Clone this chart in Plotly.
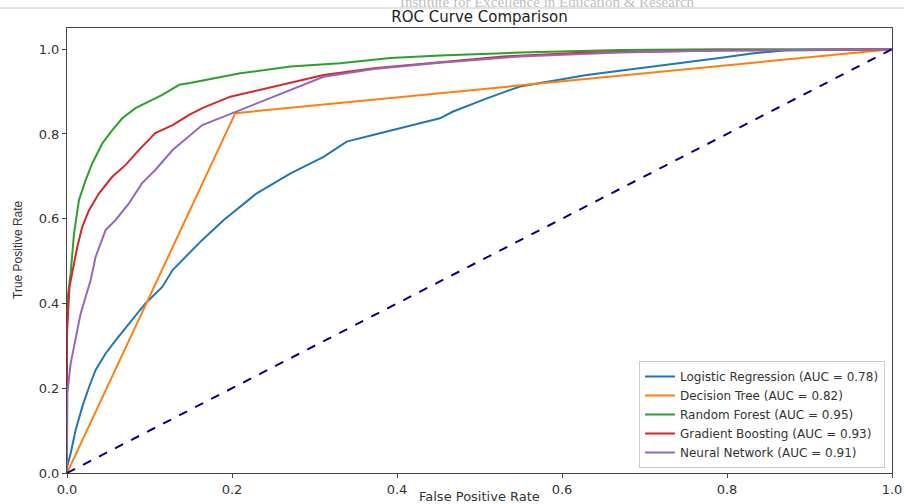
import plotly.graph_objects as go

# ---- data ----
lr_fpr = [0.0, 0.0, 0.0044, 0.0104, 0.0185, 0.0267, 0.0347, 0.0468, 0.0589, 0.075, 0.095, 0.1155,
          0.128, 0.164, 0.190, 0.230, 0.271, 0.311, 0.339, 0.372, 0.412, 0.452, 0.468, 0.509,
          0.549, 0.590, 0.630, 0.670, 0.711, 0.751, 0.791, 0.83, 0.869, 1.0]
lr_tpr = [0.0, 0.014, 0.046, 0.101, 0.156, 0.203, 0.243, 0.282, 0.313, 0.353, 0.400, 0.439,
          0.479, 0.550, 0.597, 0.660, 0.707, 0.746, 0.782, 0.798, 0.817, 0.837, 0.853, 0.884,
          0.912, 0.926, 0.939, 0.949, 0.959, 0.968, 0.979, 0.99, 0.997, 1.0]

dt_fpr = [0.0, 0.204, 1.0]
dt_tpr = [0.0, 0.849, 1.0]

rf_fpr = [0.0, 0.0, 0.0044, 0.0085, 0.0145, 0.0226, 0.0307, 0.0428, 0.0549, 0.067, 0.083, 0.103,
          0.1155, 0.136, 0.149, 0.210, 0.271, 0.331, 0.392, 0.452, 0.549, 0.670, 0.791, 1.0]
rf_tpr = [0.0, 0.40, 0.471, 0.565, 0.644, 0.691, 0.731, 0.778, 0.809, 0.837, 0.861, 0.880,
          0.892, 0.916, 0.920, 0.943, 0.959, 0.967, 0.979, 0.985, 0.992, 0.998, 1.0, 1.0]

gb_fpr = [0.0, 0.0, 0.003, 0.0064, 0.0125, 0.0185, 0.0267, 0.0388, 0.0549, 0.071, 0.087, 0.107,
          0.128, 0.148, 0.164, 0.198, 0.250, 0.311, 0.372, 0.452, 0.529, 0.630, 0.791, 1.0]
gb_tpr = [0.0, 0.33, 0.439, 0.471, 0.534, 0.581, 0.620, 0.660, 0.699, 0.727, 0.762, 0.802,
          0.821, 0.845, 0.861, 0.888, 0.912, 0.939, 0.955, 0.969, 0.983, 0.992, 0.997, 1.0]

nn_fpr = [0.0, 0.0004, 0.0044, 0.0104, 0.0165, 0.0226, 0.0286, 0.0347, 0.0468, 0.0589, 0.075,
          0.091, 0.107, 0.128, 0.148, 0.164, 0.190, 0.230, 0.271, 0.311, 0.372, 0.452, 0.549,
          0.670, 0.791, 1.0]
nn_tpr = [0.0, 0.188, 0.258, 0.321, 0.376, 0.416, 0.455, 0.510, 0.573, 0.597, 0.636,
          0.684, 0.715, 0.762, 0.794, 0.821, 0.841, 0.872, 0.904, 0.935, 0.953, 0.968, 0.983,
          0.992, 0.997, 1.0]

diag = [0.0, 1.0]

names = ["Logistic Regression (AUC = 0.78)", "Decision Tree (AUC = 0.82)",
         "Random Forest (AUC = 0.95)", "Gradient Boosting (AUC = 0.93)",
         "Neural Network (AUC = 0.91)"]
colors = ["#1f77b4", "#ff7f0e", "#2ca02c", "#d62728", "#9467bd"]
tick_vals = [0.0, 0.2, 0.4, 0.6, 0.8, 1.0]
tick_text = ["0.0", "0.2", "0.4", "0.6", "0.8", "1.0"]

series = [(lr_fpr, lr_tpr), (dt_fpr, dt_tpr), (rf_fpr, rf_tpr), (gb_fpr, gb_tpr), (nn_fpr, nn_tpr)]

fig = go.Figure()
for (fx, ty), name, col in zip(series, names, colors):
    fig.add_trace(go.Scatter(x=fx, y=ty, mode="lines", name=name,
                             line=dict(color=col, width=2)))
fig.add_trace(go.Scatter(x=diag, y=diag, mode="lines", showlegend=False,
                         line=dict(color="navy", width=2, dash="dash")))

L, R, T, B = 67, 12, 28, 31
W, H = 904, 504
pw, ph = W - L - R, H - T - B

axis_common = dict(showline=True, linecolor="#444", linewidth=1, mirror=True,
                   ticks="outside", ticklen=4, tickcolor="#444", showgrid=False,
                   zeroline=False, automargin=False,
                   tickfont=dict(family="DejaVu Sans", size=13, color="#333"),
                   tickvals=tick_vals, ticktext=tick_text)

fig.update_layout(
    width=W, height=H,
    margin=dict(l=L, r=R, t=T, b=B, autoexpand=False),
    paper_bgcolor="white", plot_bgcolor="white",
    title=dict(text="ROC Curve Comparison", x=(L + pw / 2) / W, xanchor="center",
               y=1 - 17 / H, yanchor="middle",
               font=dict(family="DejaVu Sans", size=15, color="#222")),
    xaxis=dict(range=[0, 1], **axis_common),
    yaxis=dict(range=[0, 1.05], **axis_common),
    legend=dict(x=(885 - L) / pw, xanchor="right", y=(H - B - 468) / ph, yanchor="bottom",
                bgcolor="white", bordercolor="#ccc", borderwidth=1,
                font=dict(family="DejaVu Sans", size=12, color="#333"),
                itemwidth=30, tracegroupgap=0),
    showlegend=True,
)

# axis titles
fig.add_annotation(text="False Positive Rate", xref="paper", yref="paper",
                   x=0.5, y=-(496 - (H - B)) / ph, xanchor="center", yanchor="middle",
                   showarrow=False, font=dict(family="DejaVu Sans", size=13, color="#333"))
fig.add_annotation(text="True Positive Rate", xref="paper", yref="paper",
                   x=-(L - 18) / pw, y=((H - B) - 250) / ph, xanchor="center", yanchor="middle",
                   textangle=-90, showarrow=False,
                   font=dict(family="Liberation Sans Narrow, Liberation Sans", size=12, color="#333"))

# watermark header line and text
fig.add_shape(type="line", xref="paper", yref="paper",
              x0=-L / pw, x1=(W - L) / pw, y0=((H - B) - 8) / ph, y1=((H - B) - 8) / ph,
              line=dict(color="#c8c8c8", width=1))
fig.add_annotation(text="Institute for Excellence in Education &amp; Research", xref="paper", yref="paper",
                   x=(547 - L) / pw, y=((H - B) - 12) / ph, xanchor="center", yanchor="bottom",
                   showarrow=False,
                   font=dict(family="Liberation Serif", size=15, color="#c0c0c0"))

fig.write_html("out.html")
